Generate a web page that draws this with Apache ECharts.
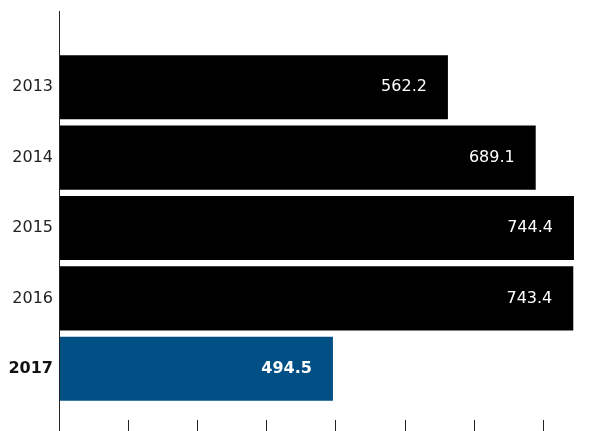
<!DOCTYPE html>
<html>
<head>
<meta charset="utf-8">
<script src="https://cdn.jsdelivr.net/npm/echarts@6/dist/echarts.min.js"></script>
<style>html,body{margin:0;padding:0;background:#fff}#c{width:608px;height:431px}</style>
</head>
<body>
<div id="c"></div>
<script>
const categories = ['2013', '2014', '2015', '2016', '2017'];
// bar lengths as drawn in the picture
const values = [562.2, 689.1, 744.4, 743.4, 396];
// value labels as printed on the bars
const valueLabels = ['562.2', '689.1', '744.4', '743.4', '494.5'];
const highlightIndex = 4;

const FONT = '"DejaVu Sans", sans-serif';
const chart = echarts.init(document.getElementById('c'), null, {renderer: 'canvas'});
chart.setOption({
  animation: false,
  grid: {left: 59, top: 52, right: 0, bottom: 27, containLabel: false},
  xAxis: {
    type: 'value', min: 0, max: 793.6, interval: 100,
    offset: 16,
    axisLine: {show: false},
    axisTick: {show: true, length: 11, lineStyle: {color: '#222', width: 1}},
    axisLabel: {show: false},
    splitLine: {show: false}
  },
  yAxis: {
    type: 'category', data: categories, inverse: true,
    axisLine: {show: false},
    axisTick: {show: false},
    axisLabel: {
      margin: 6, fontFamily: FONT, fontSize: 16, fontWeight: 'normal', color: '#222',
      formatter: (v) => v === categories[highlightIndex] ? '{b|' + v + '}' : v,
      rich: {b: {fontFamily: FONT, fontSize: 16, fontWeight: 'bold', color: '#111'}}
    }
  },
  graphic: [{
    type: 'line', shape: {x1: 59.5, y1: 11, x2: 59.5, y2: 431},
    style: {stroke: '#222', lineWidth: 1}, z: 10
  }],
  series: [{
    type: 'bar',
    barCategoryGap: '9%',
    data: values.map((v, i) => ({
      value: v,
      itemStyle: {color: i === highlightIndex ? '#005086' : '#000'},
      label: i === highlightIndex ? {fontWeight: 'bold'} : {}
    })),
    label: {
      show: true, position: 'insideRight', distance: 21,
      color: '#fff', fontFamily: FONT, fontSize: 16, fontWeight: 'normal',
      formatter: (p) => valueLabels[p.dataIndex]
    }
  }]
});
</script>
</body>
</html>
